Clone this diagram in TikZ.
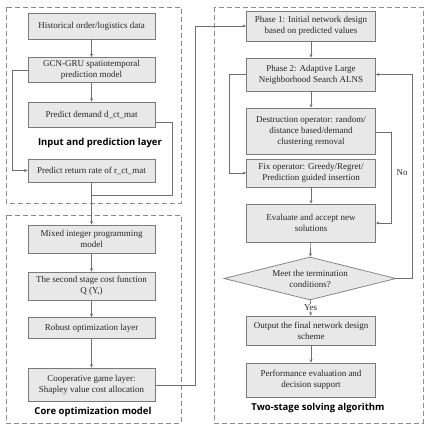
\documentclass[tikz,border=0pt]{standalone}
\usepackage{fontspec}
\setmainfont{Liberation Serif}
\newfontfamily\labfont{Open Sans}
\usetikzlibrary{arrows.meta,shapes.geometric}
\definecolor{boxfill}{HTML}{E8E8E8}
\definecolor{boxline}{HTML}{7A7A7A}
\definecolor{conline}{HTML}{6E6E6E}
\definecolor{dashcol}{HTML}{8C8C8C}
\tikzset{
  blk/.style={draw=boxline, fill=boxfill, line width=0.7pt, align=center,
    font=\fontsize{9}{11}\selectfont, inner sep=0pt, text=black!85},
  lbox/.style={blk, minimum width=127pt},
  rbox/.style={blk, minimum width=129pt},
  container/.style={draw=dashcol, line width=0.8pt, dash pattern=on 5pt off 3pt},
  conn/.style={draw=conline, line width=0.6pt},
  arr/.style={conn, -{Stealth[length=3.5pt,width=3pt]}},
  layerlabel/.style={font=\labfont\bfseries\fontsize{9.5}{11}\selectfont, text=black},
  smalllab/.style={font=\fontsize{9}{11}\selectfont, text=black!85},
}
\begin{document}
\begin{tikzpicture}[x=1pt,y=-1pt]
\useasboundingbox (0,0) rectangle (431,430);
% containers
\draw[container] (6,7) rectangle (181,203);
\draw[container] (6,215) rectangle (181,423);
\draw[container] (214,7) rectangle (423,423);
% left column
\node[lbox, minimum height=26pt] (b1) at (91.5,26) {Historical order/logistics data};
\node[lbox, minimum height=25pt] (b2) at (91.5,70) {GCN-GRU spatiotemporal\\prediction model};
\node[lbox, minimum height=25pt] (b3) at (91.5,114.5) {Predict demand d\_ct\_mat};
\node[layerlabel] (l1) at (100,143) {Input and prediction layer};
\node[lbox, minimum height=23pt] (b4) at (91.5,170.5) {Predict return rate of r\_ct\_mat};
\node[lbox, minimum height=28pt] (b5) at (91.5,239) {Mixed integer programming\\model};
\node[lbox, minimum height=28pt] (b6) at (91.5,286) {The second stage cost function\\Q (Y,)};
\node[lbox, minimum height=21pt] (b7) at (91.5,328) {Robust optimization layer};
\node[lbox, minimum height=33pt] (b8) at (91.5,384.5) {Cooperative game layer:\\Shapley value cost allocation};
\node[layerlabel] (l2) at (93,412) {Core optimization model};
% right column
\node[rbox, minimum height=30pt] (p1) at (311,26) {Phase 1: Initial network design\\based on predicted values};
\node[rbox, minimum height=33pt] (p2) at (311,74.5) {Phase 2: Adaptive Large\\Neighborhood Search ALNS};
\node[rbox, minimum height=46pt] (d) at (311,131) {Destruction operator: random/\\distance based/demand\\clustering removal};
\node[rbox, minimum height=28pt] (f) at (311,173) {Fix operator: Greedy/Regret/\\Prediction guided insertion};
\node[rbox, minimum height=38pt] (e) at (311,223) {Evaluate and accept new\\solutions};
\node[diamond, draw=boxline, fill=boxfill, line width=0.7pt, align=center,
  font=\fontsize{9}{11}\selectfont, text=black!85, inner sep=0pt,
  minimum width=172pt, minimum height=43pt, aspect=4] (m) at (310,278.5) {Meet the termination\\conditions?};
\node[rbox, minimum height=29pt] (o) at (311,330.5) {Output the final network design\\scheme};
\node[rbox, minimum height=34pt] (q) at (311,380) {Performance evaluation and\\decision support};
\node[layerlabel] (l3) at (318,408) {Two-stage solving algorithm};
% straight arrows
\draw[arr] (b1) -- (b2);
\draw[arr] (b2) -- (b3);
\draw[arr] (b4) -- (b5);
\draw[arr] (b5) -- (b6);
\draw[arr] (b6) -- (b7);
\draw[arr] (b7) -- (b8);
\draw[arr] (p1) -- (p2);
\draw[arr] (p2) -- (d);
\draw[arr] (f) -- (e);
\draw[arr] (e) -- (m);
\draw[arr] (m) -- node[smalllab, fill=white, inner sep=0.5pt, pos=0.5] (yes) {Yes} (o);
\draw[arr] (o) -- (q);
% bends
\coordinate (c1) at (12,70);
\draw[arr] (b2.west) -- (c1) |- (b4.west);
\coordinate (c2) at (172,122);
\coordinate (c3) at (91.5,195);
\draw[conn] (b3.east |- c2) -- (c2) |- (c3);
\coordinate (c4) at (195,385);
\draw[arr] (b8.east |- c4) -- (c4) |- (p1.west);
\coordinate (c5) at (229,74.5);
\draw[arr] (p2.west) -- (c5) |- (f.west);
\coordinate (c6) at (391,132);
\draw[arr] (d.east |- c6) -- (c6) |- (e.east);
\coordinate (c7) at (412,278.5);
\draw[arr] (m.east) -- (c7) |- (p2.east);
\node[smalllab] (no) at (402,173) {No};
\end{tikzpicture}
\end{document}
